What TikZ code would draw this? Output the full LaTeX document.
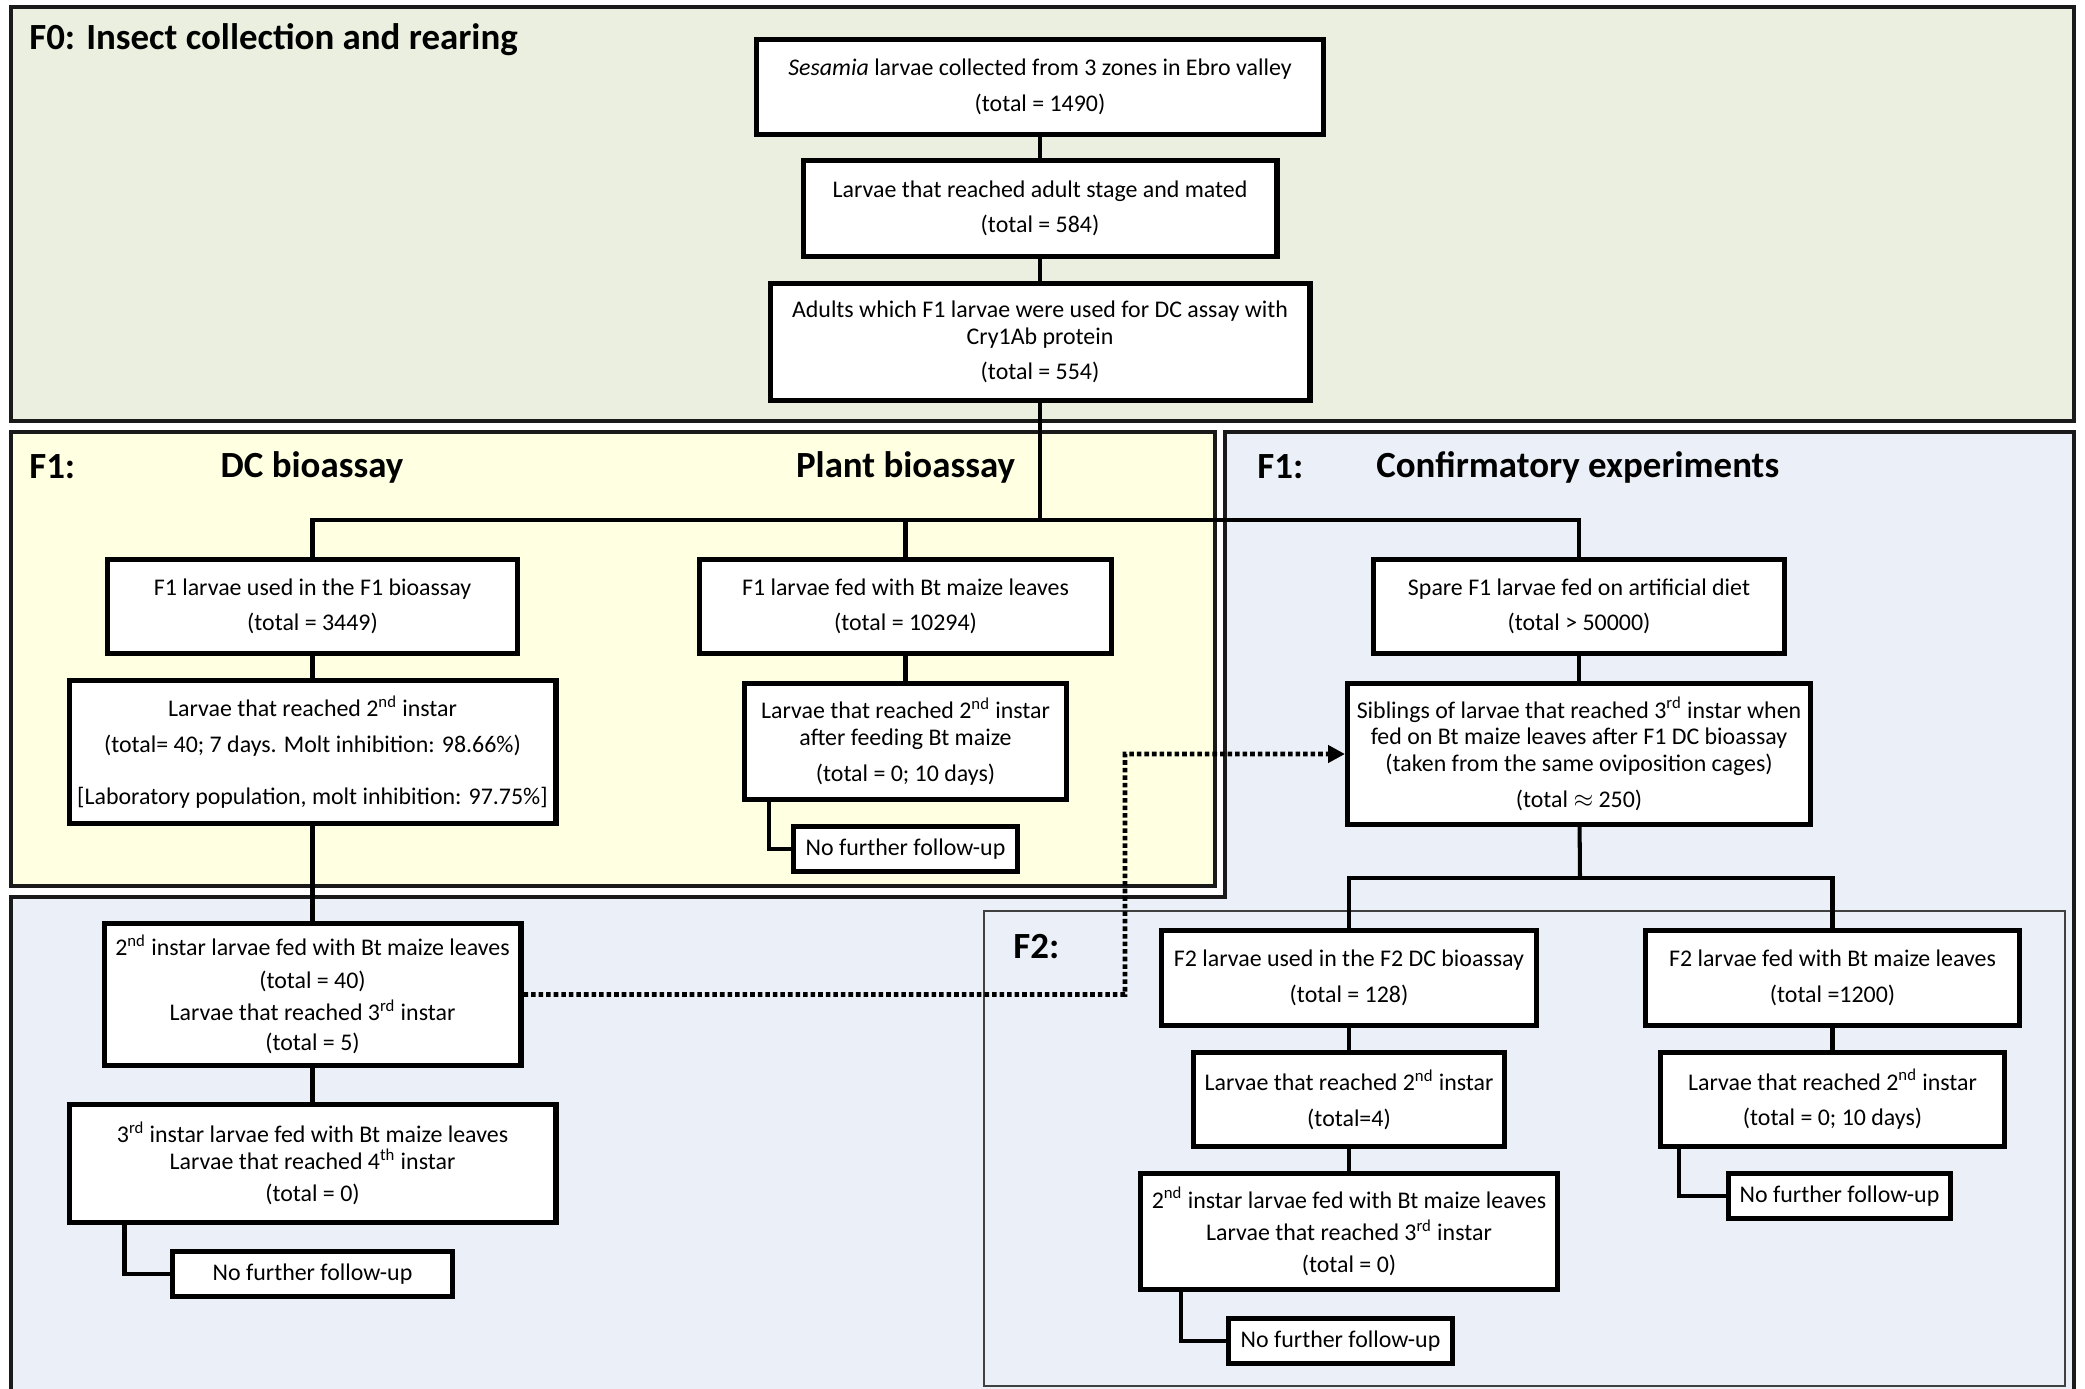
\documentclass[tikz,border=0pt]{standalone}
\usepackage{fontspec}
\setmainfont{Carlito}
\usepackage{xcolor}
\usepackage{tikz}
\usetikzlibrary{arrows.meta,positioning}
\definecolor{fzerogreen}{HTML}{EBEFDF}
\definecolor{fonecream}{HTML}{FFFFE1}
\definecolor{fblue}{HTML}{EBF0F8}
\definecolor{edge}{HTML}{1A1A1A}
\tikzset{
  stagebox/.style={
    rectangle,
    draw=black,
    fill=white,
    line width=3pt,
    inner sep=0pt,
    align=center,
    font=\fontsize{13.6}{15.3}\selectfont
  },
  boxsize/.style 2 args={
    minimum width=#1cm-3pt,
    minimum height=#2cm-3pt
  },
  stopbox/.style={
    stagebox,
    boxsize={4.58}{1.0}
  },
  panel/.style={
    draw=edge,
    line width=2.2pt
  },
  subpanel/.style={
    draw=black!75,
    line width=1pt,
    fill=fblue
  },
  heading/.style={
    font=\fontsize{21}{24}\selectfont\bfseries,
    inner sep=0pt
  },
  link/.style={line width=2.3pt, draw=black},
  dotlink/.style={-{Triangle[length=3.4mm,width=3.4mm]}, line width=2.6pt, draw=black,
    dash pattern=on 2.6pt off 1.7pt}
}

\begin{document}
\begin{tikzpicture}[node distance=0.44cm]

\useasboundingbox (0,0) rectangle (41.7,-27.76);

% background panels
\draw[panel, fill=fzerogreen] (0.22,-0.14) rectangle (41.48,-8.42);
\draw[panel, fill=fonecream] (0.22,-8.64) rectangle (24.3,-17.72);
\draw[panel, fill=fblue] (0.22,-28.6) -- (0.22,-17.94) -- (24.5,-17.94)
  -- (24.5,-8.64) -- (41.48,-8.64) -- (41.48,-28.6);
\draw[subpanel] (19.68,-18.22) rectangle (41.3,-27.72);

\node[heading, anchor=west] (hfzero) at (0.58,-0.8) {F0: Insect collection and rearing};
\node[heading, anchor=west] (hfone) at (0.58,-9.34) {F1:};
\node[heading] (hdc) at (6.24,-9.34) {DC bioassay};
\node[heading] (hplant) at (18.11,-9.34) {Plant bioassay};
\node[heading, anchor=west] (hfonebis) at (25.14,-9.34) {F1:};
\node[heading, anchor=west] (hconf) at (27.52,-9.34) {Confirmatory experiments};
\node[heading, anchor=west] (hftwo) at (20.26,-18.94) {F2:};

% F0
\node[stagebox, boxsize={11.44}{2.0}] (sesamia) at (20.8,-1.74) {
\textit{Sesamia} larvae collected from 3 zones in Ebro valley\\[5pt]
(total = 1490)
};

\node[stagebox, boxsize={9.58}{2.02}, below=0.42cm of sesamia] (mated) {
Larvae that reached adult stage and mated\\[5pt]
(total = 584)
};

\node[stagebox, boxsize={10.9}{2.44}, below=of mated] (dcadults) {
Adults which F1 larvae were used for DC assay with\\
Cry1Ab protein\\[5pt]
(total = 554)
};

% F1
\node[stagebox, boxsize={8.3}{1.98}] (fonedc) at (6.25,-12.13) {
F1 larvae used in the F1 bioassay\\[5pt]
(total = 3449)
};

\node[stagebox, boxsize={8.34}{1.98}] (foneplant) at (18.11,-12.13) {
F1 larvae fed with Bt maize leaves\\[5pt]
(total = 10294)
};

\node[stagebox, boxsize={8.32}{1.98}] (spare) at (31.58,-12.13) {
Spare F1 larvae fed on artificial diet\\[5pt]
(total > 50000)
};

\node[stagebox, boxsize={9.84}{2.96}, below=of fonedc] (dcsecond) {
Larvae that reached 2\textsuperscript{nd} instar\\[5pt]
(total= 40; 7 days. Molt inhibition: 98.66\%)\\[14pt]
{[}Laboratory population, molt inhibition: 97.75\%{]}
};

\node[stagebox, boxsize={6.54}{2.42}, below=0.5cm of foneplant] (plantsecond) {
Larvae that reached 2\textsuperscript{nd} instar\\
after feeding Bt maize\\[5pt]
(total = 0; 10 days)
};

\node[stopbox, below=of plantsecond] (plantstop) {No further follow-up};

\node[stagebox, boxsize={9.36}{2.92}, below=0.5cm of spare] (siblings) {
Siblings of larvae that reached 3\textsuperscript{rd} instar when\\
fed on Bt maize leaves after F1 DC bioassay\\
(taken from the same oviposition cages)\\[5pt]
(total $\approx$ 250)
};

\node[stagebox, boxsize={8.44}{2.94}, below=1.9cm of dcsecond] (dcfedsecond) {
2\textsuperscript{nd} instar larvae fed with Bt maize leaves\\[3pt]
(total = 40)\\[3pt]
Larvae that reached 3\textsuperscript{rd} instar\\[2pt]
(total = 5)
};

\node[stagebox, boxsize={9.84}{2.46}, below=0.68cm of dcfedsecond] (dcfedthird) {
3\textsuperscript{rd} instar larvae fed with Bt maize leaves\\
Larvae that reached 4\textsuperscript{th} instar\\[3pt]
(total = 0)
};

\node[stopbox, boxsize={5.7}{1.0}, below=0.48cm of dcfedthird] (dcstop) {No further follow-up};

% F2
\node[stagebox, boxsize={7.6}{2.0}] (ftwodc) at (26.98,-19.56) {
F2 larvae used in the F2 DC bioassay\\[5pt]
(total = 128)
};

\node[stagebox, boxsize={7.58}{2.0}] (ftwoplant) at (36.65,-19.56) {
F2 larvae fed with Bt maize leaves\\[5pt]
(total =1200)
};

\node[stagebox, boxsize={6.32}{1.98}, below=of ftwodc] (ftwodcsecond) {
Larvae that reached 2\textsuperscript{nd} instar\\[5pt]
(total=4)
};

\node[stagebox, boxsize={6.98}{1.98}, below=of ftwoplant] (ftwoplantsecond) {
Larvae that reached 2\textsuperscript{nd} instar\\[5pt]
(total = 0; 10 days)
};

\node[stagebox, boxsize={8.44}{2.42}, below=of ftwodcsecond] (ftwodcfed) {
2\textsuperscript{nd} instar larvae fed with Bt maize leaves\\[3pt]
Larvae that reached 3\textsuperscript{rd} instar\\[3pt]
(total = 0)
};

\node[stopbox, below=0.48cm of ftwodcfed, xshift=-0.17cm] (ftwodcstop) {No further follow-up};
\node[stopbox, boxsize={4.54}{1.0}, below=of ftwoplantsecond, xshift=0.14cm] (ftwoplantstop) {No further follow-up};

% connectors
\coordinate (fonesplit) at (20.8,-10.40);
\coordinate (ftwosplit) at (31.6,-17.56);
\coordinate (dotbend) at (22.5,-15.08);

\draw[link] (sesamia) -- (mated);
\draw[link] (mated) -- (dcadults);
\draw[link] (dcadults) -- (fonesplit);
\draw[link] (fonedc.north) |- (fonesplit) -| (spare.north);
\draw[link] (foneplant.north) -- (foneplant.north |- fonesplit);
\draw[link] (fonedc) -- (dcsecond);
\draw[link] (dcsecond) -- (dcfedsecond);
\draw[link] (dcfedsecond) -- (dcfedthird);
\draw[link] ([xshift=1.16cm]dcfedthird.south west) |- (dcstop);
\draw[link] (foneplant) -- (plantsecond);
\draw[link] ([xshift=0.54cm]plantsecond.south west) |- (plantstop);
\draw[link] (spare) -- (siblings);
\draw[link] (siblings) -- (ftwosplit);
\draw[link] (ftwodc.north) |- (ftwosplit) -| (ftwoplant.north);
\draw[link] (ftwodc) -- (ftwodcsecond);
\draw[link] (ftwodcsecond) -- (ftwodcfed);
\draw[link] ([xshift=0.86cm]ftwodcfed.south west) |- (ftwodcstop);
\draw[link] (ftwoplant) -- (ftwoplantsecond);
\draw[link] ([xshift=0.42cm]ftwoplantsecond.south west) |- (ftwoplantstop);

\draw[dotlink] (dcfedsecond.east) -| (dotbend) -- (siblings.west);

\end{tikzpicture}
\end{document}
